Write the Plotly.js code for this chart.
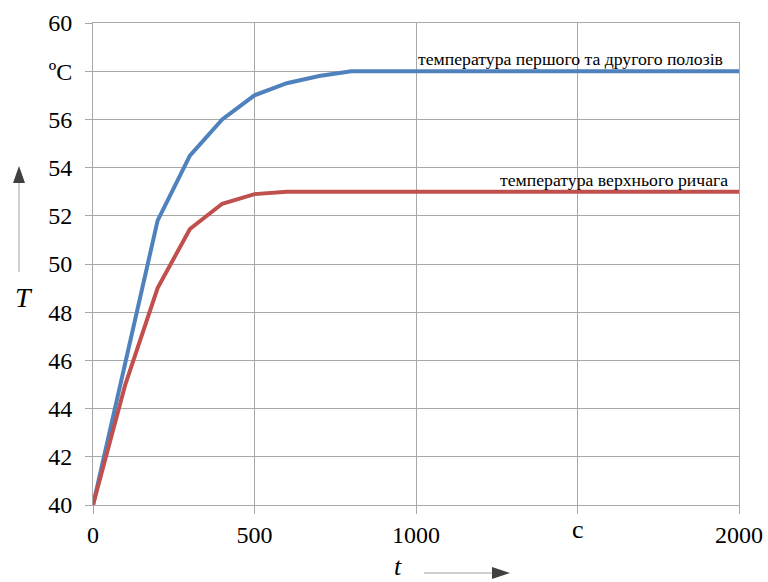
<!DOCTYPE html>
<html>
<head>
<meta charset="utf-8">
<script src="https://cdn.plot.ly/plotly-3.0.1.min.js"></script>
<style>html,body{margin:0;padding:0;background:#fff;}#chart{width:768px;height:582px;}</style>
</head>
<body>
<div id="chart"></div>
<script>
// Data
const timeBlue = [0, 100, 200, 300, 400, 500, 600, 700, 800, 1000, 1500, 2000];
const tempBlue = [40, 45.9, 51.8, 54.5, 56, 57, 57.5, 57.8, 58, 58, 58, 58];
const timeRed = [0, 100, 200, 300, 400, 500, 600, 800, 1000, 1500, 2000];
const tempRed = [40, 45, 49, 51.45, 52.5, 52.9, 53, 53, 53, 53, 53];
const blueLabel = 'температура першого та другого полозів';
const redLabel = 'температура верхнього ричага';
const xTickVals = [0, 500, 1000, 1500, 2000];
const xTickText = ['0', '500', '1000', '', '2000'];
const yTickVals = [40, 42, 44, 46, 48, 50, 52, 54, 56, 58, 60];
const yTickText = ['40', '42', '44', '46', '48', '50', '52', '54', '56', 'ºC', '60'];
const xUnit = 'с';

const L = 93, T = 23, W = 646, H = 482;
const px = x => (x - L) / W;
const py = y => (T + H - y) / H;
const serif = 'Liberation Serif';
const gridC = '#a8a8a8';

const traces = [
  {x: timeBlue, y: tempBlue, mode: 'lines', line: {color: '#4f81bd', width: 4}, hoverinfo: 'skip'},
  {x: timeRed, y: tempRed, mode: 'lines', line: {color: '#c0504d', width: 4}, hoverinfo: 'skip'}
];

const layout = {
  width: 768, height: 582,
  margin: {l: L, r: 768 - L - W, t: T, b: 582 - T - H},
  paper_bgcolor: '#fff', plot_bgcolor: '#fff',
  showlegend: false,
  font: {family: serif, size: 24, color: '#000'},
  xaxis: {
    range: [0, 2000], tickvals: xTickVals, ticktext: xTickText,
    showgrid: true, gridcolor: gridC, gridwidth: 1,
    showline: true, linecolor: gridC, mirror: true, zeroline: false,
    ticks: 'outside', ticklen: 8, tickcolor: gridC,
    tickfont: {family: serif, size: 24, color: '#000'}
  },
  yaxis: {
    range: [40, 60], tickvals: yTickVals, ticktext: yTickText,
    showgrid: true, gridcolor: gridC, gridwidth: 1,
    showline: true, linecolor: gridC, mirror: true, zeroline: false,
    ticks: 'outside', ticklen: 7, tickcolor: gridC, ticklabelstandoff: 8,
    tickfont: {family: serif, size: 24, color: '#000'}
  },
  annotations: [
    {x: 2000, y: 58, xref: 'x', yref: 'y', text: blueLabel, showarrow: false,
     xanchor: 'right', yanchor: 'bottom', xshift: -14, yshift: 0,
     font: {family: serif, size: 17.7, color: '#000'}},
    {x: 2000, y: 53, xref: 'x', yref: 'y', text: redLabel, showarrow: false,
     xanchor: 'right', yanchor: 'bottom', xshift: -9, yshift: 0,
     font: {family: serif, size: 17.7, color: '#000'}},
    {x: 1500, y: 0, xref: 'x', yref: 'paper', text: xUnit, showarrow: false,
     xanchor: 'center', yanchor: 'middle', yshift: -24,
     font: {family: serif, size: 26, color: '#000'}},
    {x: px(24), y: py(297), xref: 'paper', yref: 'paper', text: '<i>T</i>', showarrow: false,
     xanchor: 'center', yanchor: 'middle',
     font: {family: serif, size: 28, color: '#000'}},
    {x: px(398), y: py(566), xref: 'paper', yref: 'paper', text: '<i>t</i>', showarrow: false,
     xanchor: 'center', yanchor: 'middle',
     font: {family: serif, size: 26, color: '#000'}}
  ],
  shapes: [
    {type: 'line', xref: 'paper', yref: 'paper', x0: px(19), x1: px(19), y0: py(272), y1: py(183),
     line: {color: '#a0a0a0', width: 1}},
    {type: 'path', xref: 'paper', yref: 'paper',
     path: 'M ' + px(13) + ' ' + py(183) + ' L ' + px(25) + ' ' + py(183) + ' L ' + px(19) + ' ' + py(166) + ' Z',
     fillcolor: '#404040', line: {width: 0}},
    {type: 'line', xref: 'paper', yref: 'paper', x0: px(424), x1: px(494), y0: py(573), y1: py(573),
     line: {color: '#a0a0a0', width: 1}},
    {type: 'path', xref: 'paper', yref: 'paper',
     path: 'M ' + px(492) + ' ' + py(567) + ' L ' + px(492) + ' ' + py(579) + ' L ' + px(510) + ' ' + py(573) + ' Z',
     fillcolor: '#404040', line: {width: 0}}
  ]
};

Plotly.newPlot('chart', traces, layout, {staticPlot: true, displayModeBar: false});
</script>
</body>
</html>
